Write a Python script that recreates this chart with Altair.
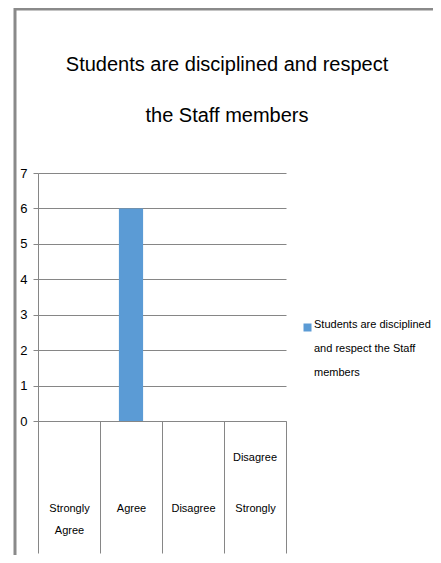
import altair as alt
import pandas as pd

categories = ["Strongly Agree", "Agree", "Disagree", "Disagree Strongly"]
values = [0, 6, 0, 0]
series_name = "Students are disciplined and respect the Staff members"
y_ticks = [0, 1, 2, 3, 4, 5, 6, 7]
title_lines = ["Students are disciplined and respect", "the Staff members"]
legend_lines = ["Students are disciplined", "and respect the Staff", "members"]

df = pd.DataFrame({"category": categories, "value": values, "series": series_name})
title_df = pd.DataFrame({"title": [" ".join(title_lines)]})

FONT = "Liberation Sans"
GRAY = "#868686"

# main label rows (Strongly / Agree / Disagree / Strongly) and the upper "Disagree" of the last label
x_label_expr = (
    "datum.label == 'Strongly Agree' ? ['Strongly', 'Agree'] : "
    "datum.label == 'Disagree Strongly' ? 'Strongly' : datum.label"
)
x_upper_expr = "datum.label == 'Disagree Strongly' ? 'Disagree' : ''"
legend_label_expr = "[" + ", ".join(f"'{s}'" for s in legend_lines) + "]"

x_enc_main = alt.X(
    "category:N",
    sort=categories,
    scale=alt.Scale(paddingInner=0, paddingOuter=0),
    axis=alt.Axis(
        title=None,
        orient="bottom",
        labelAngle=0,
        tickBand="extent",
        tickSize=132,
        tickColor=GRAY,
        domainColor=GRAY,
        labelBaseline="top",
        labelPadding=-51,
        labelExpr=x_label_expr,
        labelFont=FONT,
        labelFontSize=11,
        labelColor="#000000",
        labelLineHeight=22,
    ),
)

x_enc_upper = alt.X(
    "category:N",
    sort=categories,
    axis=alt.Axis(
        title=None,
        orient="bottom",
        labelAngle=0,
        ticks=False,
        domain=False,
        labelBaseline="top",
        labelPadding=30,
        labelExpr=x_upper_expr,
        labelFont=FONT,
        labelFontSize=11,
        labelColor="#000000",
    ),
)

bars = alt.Chart(df).mark_bar(color="#5B9BD5", width=alt.RelativeBandSize(0.39)).encode(
    x=x_enc_main,
    y=alt.Y(
        "value:Q",
        scale=alt.Scale(domain=[0, 7], nice=False),
        axis=alt.Axis(
            title=None,
            values=y_ticks,
            tickSize=5,
            tickColor=GRAY,
            domainColor=GRAY,
            gridColor=GRAY,
            labelPadding=6,
            labelFont=FONT,
            labelFontSize=13,
            labelColor="#000000",
        ),
    ),
    color=alt.Color(
        "series:N",
        scale=alt.Scale(range=["#5B9BD5"]),
        legend=alt.Legend(
            orient="none",
            legendX=264,
            legendY=149,
            title=None,
            symbolType="square",
            symbolSize=64,
            symbolStrokeWidth=0,
            labelExpr=legend_label_expr,
            labelFont=FONT,
            labelFontSize=11,
            labelColor="#000000",
            labelBaseline="alphabetic",
            labelOffset=1,
            labelLimit=200,
            padding=0,
        ),
    ),
)

upper_labels = alt.Chart(df).mark_point(opacity=0).encode(x=x_enc_upper)

title_text = alt.Chart(title_df).mark_text(
    font=FONT, fontSize=20, color="#000000", align="center",
    baseline="alphabetic", lineHeight=51,
).encode(
    text=alt.value(title_lines), x=alt.value(189), y=alt.value(-102)
)

frame_top = alt.Chart(title_df).mark_rule(color="#8a8a8a", strokeWidth=3).encode(
    x=alt.value(-23), x2=alt.value(400), y=alt.value(-164)
)
frame_left = alt.Chart(title_df).mark_rule(color="#8a8a8a", strokeWidth=3).encode(
    x=alt.value(-23), y=alt.value(-166), y2=alt.value(390)
)

chart = (
    alt.layer(frame_top, frame_left, title_text, bars, upper_labels)
    .resolve_axis(x="independent")
    .properties(
        width=248,
        height=248,
        autosize=alt.AutoSizeParams(type="none"),
        padding={"left": 30, "top": 165, "right": 147, "bottom": 134},
    )
    .configure(
        background="white",
        style={"guide-label": {"lineHeight": 24}},
        view=alt.ViewConfig(strokeWidth=0),
    )
)

chart.save("out.html", embed_options={"renderer": "svg", "actions": False})
